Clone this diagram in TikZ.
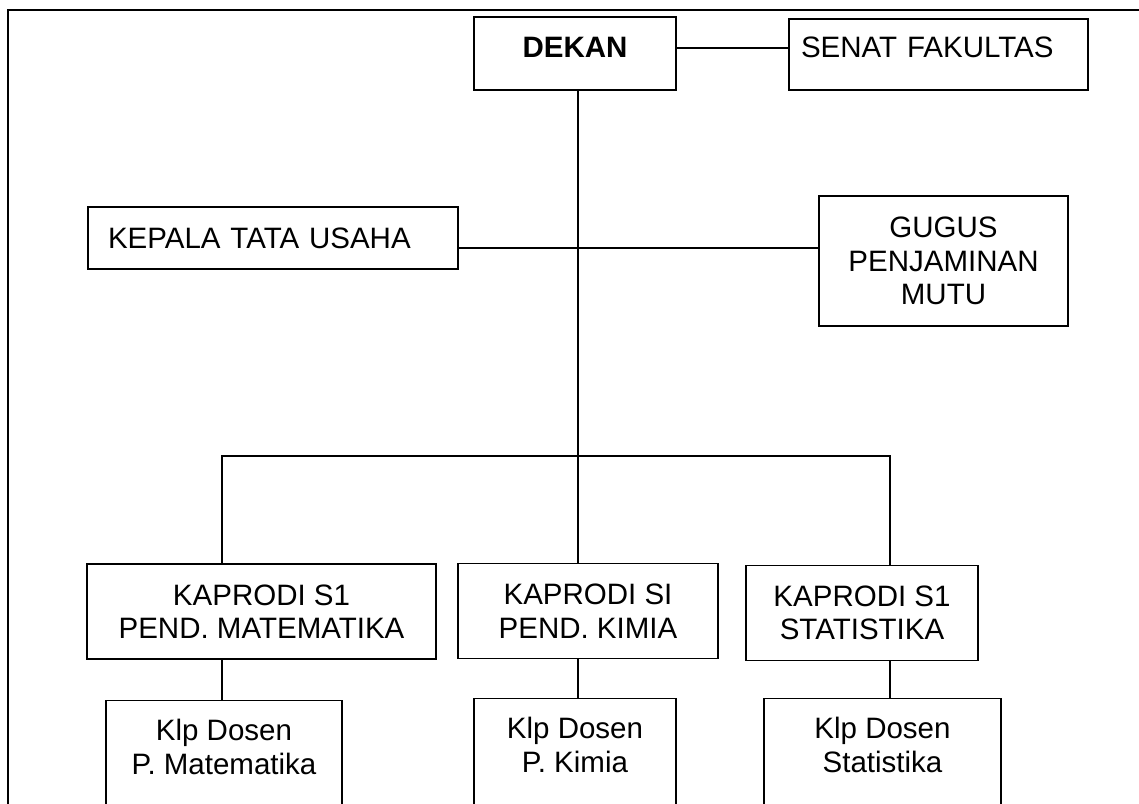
\documentclass[tikz,border=0pt]{standalone}
\usepackage{fontspec}
\setmainfont{Liberation Sans}
\begin{document}
\begin{tikzpicture}[x=1pt,y=-1pt,
    box/.style={draw,line width=1.2pt,inner sep=0pt,align=center,
      font=\fontsize{29.5}{33.5}\selectfont},
    kapbox/.style={box,minimum height=95pt},
    klpbox/.style={box,anchor=north,minimum height=140pt,text depth=48pt}]
  \useasboundingbox (0,0) rectangle (1139,803);
  \clip (0,0) rectangle (1139,803);
  \draw[line width=2pt] (8,840) -- (8,10) -- (1170,10);
  \node[box,minimum width=202pt,minimum height=73pt,text depth=13pt,
    font=\fontsize{29.5}{33.5}\selectfont\bfseries] (dekan) at (575,53.5) {DEKAN};
  \node[box,align=left,text width=275pt,inner xsep=12pt,minimum height=71pt,
    text depth=15pt] (senat) at (938.5,54.5) {SENAT FAKULTAS};
  \node[box,align=left,text width=330pt,inner xsep=20pt,minimum height=62pt,
    text depth=0pt] (tu) at (273,238) {KEPALA TATA USAHA};
  \node[box,minimum width=249pt,minimum height=130pt] (gpm) at (943.5,261)
    {GUGUS\\PENJAMINAN\\MUTU};
  \node[kapbox,minimum width=349pt] (kapmat) at (261.5,611.5)
    {KAPRODI S1\\PEND. MATEMATIKA};
  \node[kapbox,minimum width=260pt] (kapkim) at (588,611)
    {KAPRODI SI\\PEND. KIMIA};
  \node[kapbox,minimum width=232pt] (kapstat) at (862,613)
    {KAPRODI S1\\STATISTIKA};
  \node[klpbox,minimum width=236pt] (klpmat) at (224,700) {Klp Dosen\\P. Matematika};
  \node[klpbox,minimum width=202pt] (klpkim) at (575,698) {Klp Dosen\\P. Kimia};
  \node[klpbox,minimum width=237pt] (klpstat) at (882.5,698) {Klp Dosen\\Statistika};
  \coordinate (hub) at (578,248);
  \coordinate (busL) at (222,456);
  \coordinate (busR) at (890,456);
  \begin{scope}[line width=1.2pt]
    \draw ([yshift=5.5pt]dekan.east) -- ([yshift=5.5pt]dekan.east -| senat.west);
    \draw (dekan.south -| hub) -- (kapkim.north -| hub);
    \draw (tu.east |- hub) -- (gpm.west |- hub);
    \draw (kapmat.north -| busL) |- (busR) -- (kapstat.north -| busR);
    \draw (kapmat.south -| busL) -- (klpmat.north -| busL);
    \draw (kapkim.south -| hub) -- (klpkim.north -| hub);
    \draw (kapstat.south -| busR) -- (klpstat.north -| busR);
  \end{scope}
\end{tikzpicture}
\end{document}
